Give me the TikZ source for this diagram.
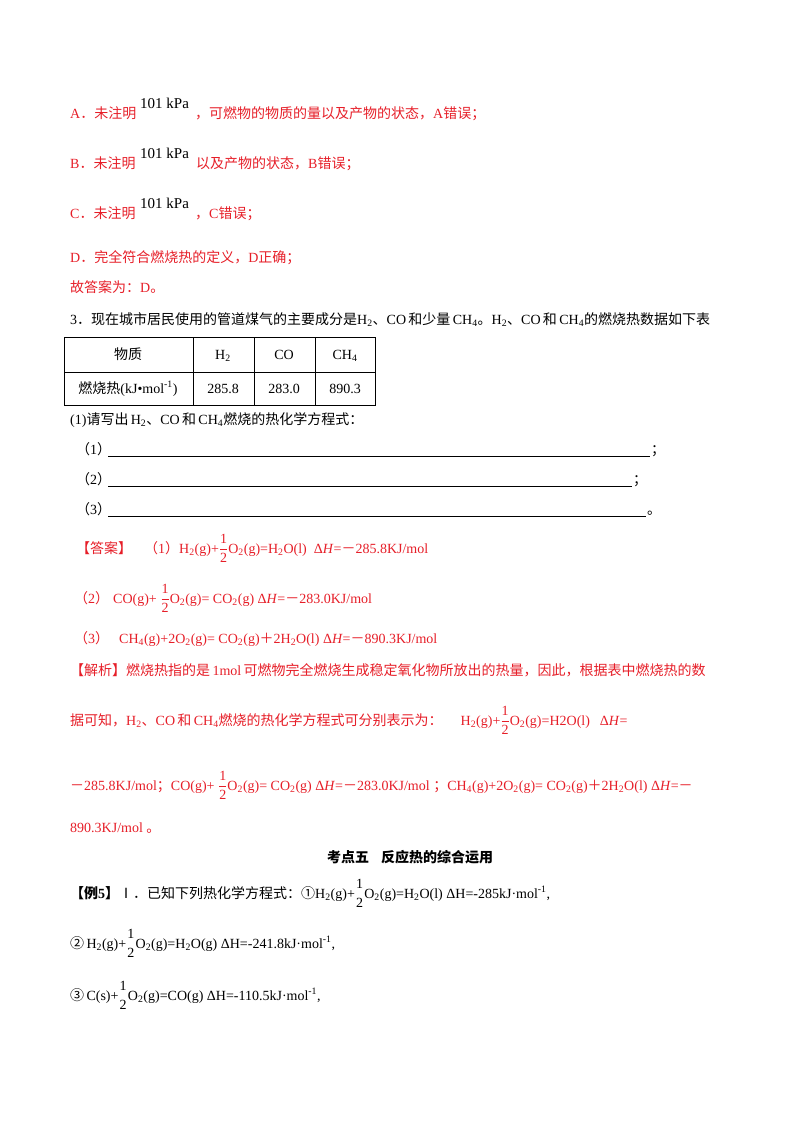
\documentclass[tikz,border=0pt]{standalone}
\usepackage{amsmath}
\usepackage{fontspec}
\setmainfont{Liberation Serif}
\newfontfamily\cjk{Noto Sans CJK SC}
\XeTeXinterchartokenstate=1
\newXeTeXintercharclass\cjkclass
\newcount\cc
\def\setrange#1#2{\cc=#1 \loop\XeTeXcharclass\cc=\cjkclass \advance\cc by 1 \ifnum\cc<#2\repeat}
\setrange{"4E00}{"A000}
\setrange{"3000}{"3040}
\setrange{"FF00}{"FFF0}
\setrange{"2460}{"2474}
\setrange{"2160}{"2180}
\XeTeXinterchartoks 0 \cjkclass = {\cjk}
\XeTeXinterchartoks 4095 \cjkclass = {\cjk}
\XeTeXinterchartoks \cjkclass 0 = {\rmfamily}
\definecolor{ansred}{RGB}{230,30,40}
\newcommand\ssub[1]{\textsubscript{#1}}
\newcommand\half{$\genfrac{}{}{0.4pt}{0}{\mathrm{1}}{\mathrm{2}}$\rmfamily}
\newcommand\halfn{$\genfrac{}{}{0pt}{0}{\mathrm{1}}{\mathrm{2}}$\rmfamily}
\tikzset{
  txt/.style={anchor=base west,inner sep=0pt,font=\fontsize{14}{16}\selectfont},
  red/.style={txt,text=ansred},
  kpa/.style={txt,font=\fontsize{15}{17}\selectfont},
  cell/.style={anchor=base,inner sep=0pt,font=\fontsize{14}{16}\selectfont},
  blank/.style={line width=0.6pt}
}
\begin{document}
\begin{tikzpicture}[x=1pt,y=-1pt]
\useasboundingbox (0,0) rectangle (800,1132);
% A-D
\node[red] (a1) at (70,118) {A．未注明};
\node[kpa] (a2) at (140,108) {101 kPa};
\node[red] (a3) at (195,118) {，可燃物的物质的量以及产物的状态，A错误；};
\node[red] (b1) at (70,168) {B．未注明};
\node[kpa] (b2) at (140,158) {101 kPa};
\node[red] (b3) at (196,168) {以及产物的状态，B错误；};
\node[red] (c1) at (70,218) {C．未注明};
\node[kpa] (c2) at (140,208) {101 kPa};
\node[red] (c3) at (195,218) {，C错误；};
\node[red] (d1) at (70,262) {D．完全符合燃烧热的定义，D正确；};
\node[red] (e1) at (70,292) {故答案为：D。};
\node[txt] (q3) at (70,324) {3．现在城市居民使用的管道煤气的主要成分是H\ssub{2}、CO\,和少量\,\rmfamily CH\ssub{4}。H\ssub{2}、CO\,和\,\rmfamily CH\ssub{4}的燃烧热数据如下表};
% table
\draw[line width=0.8pt] (64,337) rectangle (375,405);
\draw[line width=0.8pt] (64,372) -- (375,372) (193,337) -- (193,405) (254,337) -- (254,405) (315,337) -- (315,405);
\node[cell] (t1) at (128,359) {物质};
\node[cell] (t2) at (223,359) {H\ssub{2}};
\node[cell] (t3) at (284,359) {CO};
\node[cell] (t4) at (345,359) {CH\ssub{4}};
\node[cell] (t5) at (128,393) {燃烧热(kJ•mol\textsuperscript{-1})};
\node[cell] (t6) at (223,393) {285.8};
\node[cell] (t7) at (284,393) {283.0};
\node[cell] (t8) at (345,393) {890.3};
\node[txt] (p1) at (70,424) {(1)请写出\,\rmfamily H\ssub{2}、CO\,和\,\rmfamily CH\ssub{4}燃烧的热化学方程式：};
\node[txt] (l1) at (76,454) {（1）};
\node[txt] (l2) at (76,484) {（2）};
\node[txt] (l3) at (76,514) {（3）};
\coordinate (u1a) at (108,456); \coordinate (u1b) at (650,456);
\coordinate (u2a) at (108,486); \coordinate (u2b) at (632,486);
\coordinate (u3a) at (108,516); \coordinate (u3b) at (646,516);
\draw[blank] (u1a) -- (u1b); \draw[blank] (u2a) -- (u2b); \draw[blank] (u3a) -- (u3b);
\node[txt] (s1) at (651,454) {；};
\node[txt] (s2) at (633,484) {；};
\node[txt] (s3) at (647,514) {。};
% answer
\node[red] (ans1) at (76,553) {【答案】\hspace{12pt}（1）\rmfamily H\ssub{2}(g)+\half O\ssub{2}(g)=H\ssub{2}O(l)\hspace{7pt}Δ\textit{H}=－285.8KJ/mol};
\node[red] (ans2) at (74,603) {（2）\hspace{4pt}\rmfamily CO(g)+ \half O\ssub{2}(g)= CO\ssub{2}(g) Δ\textit{H}=－283.0KJ/mol};
\node[red] (ans3) at (74,643) {（3）\hspace{10pt}\rmfamily CH\ssub{4}(g)+2O\ssub{2}(g)= CO\ssub{2}(g)＋2H\ssub{2}O(l) Δ\textit{H}=－890.3KJ/mol};
\node[red] (ex1) at (70,675) {【解析】燃烧热指的是\,\rmfamily 1mol\,可燃物完全燃烧生成稳定氧化物所放出的热量，因此，根据表中燃烧热的数};
\node[red] (ex2) at (70,725) {据可知，H\ssub{2}、CO\,和\,\rmfamily CH\ssub{4}燃烧的热化学方程式可分别表示为：\hspace{18pt}\rmfamily H\ssub{2}(g)+\half O\ssub{2}(g)=H2O(l)\hspace{10pt}Δ\textit{H}=};
\node[red] (ex3) at (70,790) {－285.8KJ/mol；CO(g)+ \half O\ssub{2}(g)= CO\ssub{2}(g) Δ\textit{H}=－283.0KJ/mol ；\rmfamily CH\ssub{4}(g)+2O\ssub{2}(g)= CO\ssub{2}(g)＋2H\ssub{2}O(l) Δ\textit{H}=－};
\node[red] (ex4) at (70,832) {890.3KJ/mol 。};
% section
\node[cell,font=\fontsize{14}{16}\selectfont\bfseries] (sec) at (410,862) {考点五\hspace{12pt}反应热的综合运用};
\node[txt] (eg1) at (70,898) {\textbf{【例5】}Ⅰ．已知下列热化学方程式：①\rmfamily H\ssub{2}(g)+\halfn O\ssub{2}(g)=H\ssub{2}O(l) ΔH=-285kJ·mol\textsuperscript{-1},};
\node[txt] (eg2) at (70,948) {②\,\rmfamily H\ssub{2}(g)+\halfn O\ssub{2}(g)=H\ssub{2}O(g) ΔH=-241.8kJ·mol\textsuperscript{-1},};
\node[txt] (eg3) at (70,1000) {③\,\rmfamily C(s)+\halfn O\ssub{2}(g)=CO(g) ΔH=-110.5kJ·mol\textsuperscript{-1},};
\end{tikzpicture}
\end{document}
